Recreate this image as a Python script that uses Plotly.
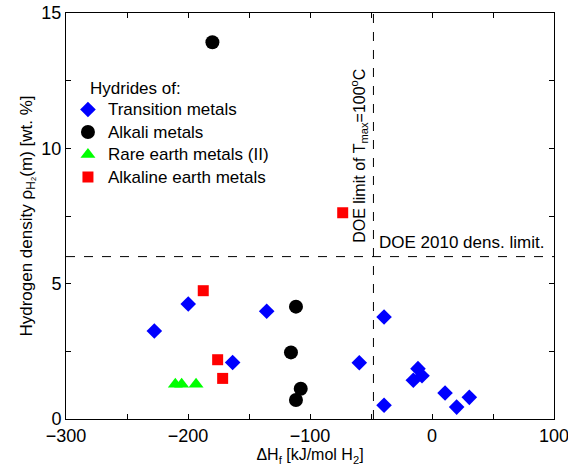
import plotly.graph_objects as go

# Data (ΔHf in kJ/mol H2, hydrogen density in wt.%)
trans_x = [-227.6, -199.8, -163.4, -135.5, -59.6, -39.3, -39.3, -15.3, -11.5, -8.2, 10.7, 20.2, 30.6]
trans_y = [3.25, 4.25, 2.09, 3.98, 2.08, 3.77, 0.51, 1.43, 1.86, 1.60, 0.96, 0.44, 0.80]
alkali_x = [-180.0, -111.5, -115.6, -107.6, -111.5]
alkali_y = [13.92, 4.15, 2.46, 1.12, 0.70]
rare_x = [-210.4, -205.2, -193.4]
rare_y = [1.28, 1.28, 1.28]
alkea_x = [-187.5, -175.7, -171.6, -73.2]
alkea_y = [4.74, 2.19, 1.50, 7.62]

series_names = ["Transition metals", "Alkali metals", "Rare earth metals (II)", "Alkaline earth metals"]

doe_T_limit = -48
doe_dens_limit = 6

x_ticks = [-300, -200, -100, 0, 100]
x_ticktext = ["\u2212300", "\u2212200", "\u2212100", "0", "100"]
y_ticks = [0, 5, 10, 15]

FONT = "Liberation Sans, Arial, sans-serif"


def big(s):
    return "<span style='font-size:17px'>" + s + "</span>"


fig = go.Figure()
fig.add_trace(go.Scatter(x=trans_x, y=trans_y, mode="markers", name=big(series_names[0]),
                         marker=dict(symbol="diamond", size=12, color="#0000ff")))
fig.add_trace(go.Scatter(x=alkali_x, y=alkali_y, mode="markers", name=big(series_names[1]),
                         marker=dict(symbol="circle", size=14, color="#000000")))
fig.add_trace(go.Scatter(x=rare_x, y=rare_y, mode="markers", name=big(series_names[2]),
                         marker=dict(symbol="triangle-up", size=13, color="#00ff00")))
fig.add_trace(go.Scatter(x=alkea_x, y=alkea_y, mode="markers", name=big(series_names[3]),
                         marker=dict(symbol="square", size=11, color="#ff0000")))

# DOE limit lines
fig.add_shape(type="line", xref="x", yref="paper", x0=doe_T_limit, x1=doe_T_limit, y0=0, y1=1,
              line=dict(color="black", width=1, dash="dash"))
fig.add_shape(type="line", xref="paper", yref="y", x0=0, x1=1, y0=doe_dens_limit, y1=doe_dens_limit,
              line=dict(color="black", width=1, dash="dash"))

fig.add_annotation(x=doe_T_limit, y=6.45, xref="x", yref="y", text="DOE limit of T<sub>max</sub>=100<sup>o</sup>C",
                   textangle=-90, showarrow=False, xanchor="right", yanchor="bottom", xshift=-1,
                   font=dict(family=FONT, size=16, color="black"))
fig.add_annotation(x=doe_T_limit + 3, y=doe_dens_limit + 0.08, xref="x", yref="y", text="DOE 2010 dens. limit.",
                   showarrow=False, xanchor="left", yanchor="bottom",
                   font=dict(family=FONT, size=17, color="black"))
fig.add_annotation(x=0.045, y=0.815, xref="paper", yref="paper", text="Hydrides of:",
                   showarrow=False, xanchor="left", yanchor="middle",
                   font=dict(family=FONT, size=17, color="black"))

axis_common = dict(showline=True, linecolor="black", linewidth=1, mirror="ticks",
                   ticks="inside", ticklen=5, tickcolor="black", showgrid=False, zeroline=False,
                   ticklabeloverflow="allow", automargin=False,
                   tickfont=dict(family=FONT, size=18, color="black"))

fig.update_xaxes(range=[-300, 100], tickvals=x_ticks, ticktext=x_ticktext,
                 minor=dict(dtick=50, ticks="inside", ticklen=5, tickcolor="black"),
                 title=dict(text="\u0394H<sub>f</sub> [kJ/mol H<sub>2</sub>]", standoff=4,
                            font=dict(family=FONT, size=16, color="black")),
                 **axis_common)
fig.update_yaxes(range=[0, 15], tickvals=y_ticks,
                 minor=dict(dtick=2.5, ticks="inside", ticklen=5, tickcolor="black"),
                 title=dict(text="Hydrogen density \u03c1<sub>H\u2082</sub>(m) [wt. %]", standoff=4,
                            font=dict(family=FONT, size=17, color="black")),
                 **axis_common)

fig.update_layout(
    width=568, height=472,
    margin=dict(l=66, r=14, t=13, b=53),
    plot_bgcolor="white", paper_bgcolor="white",
    font=dict(family=FONT, color="black"),
    showlegend=True,
    legend=dict(x=0.004, y=0.8024, xanchor="left", yanchor="top", bgcolor="rgba(0,0,0,0)",
                font=dict(family=FONT, size=15, color="black"), tracegroupgap=0,
                itemwidth=30),
)

fig.write_html("out.html")
